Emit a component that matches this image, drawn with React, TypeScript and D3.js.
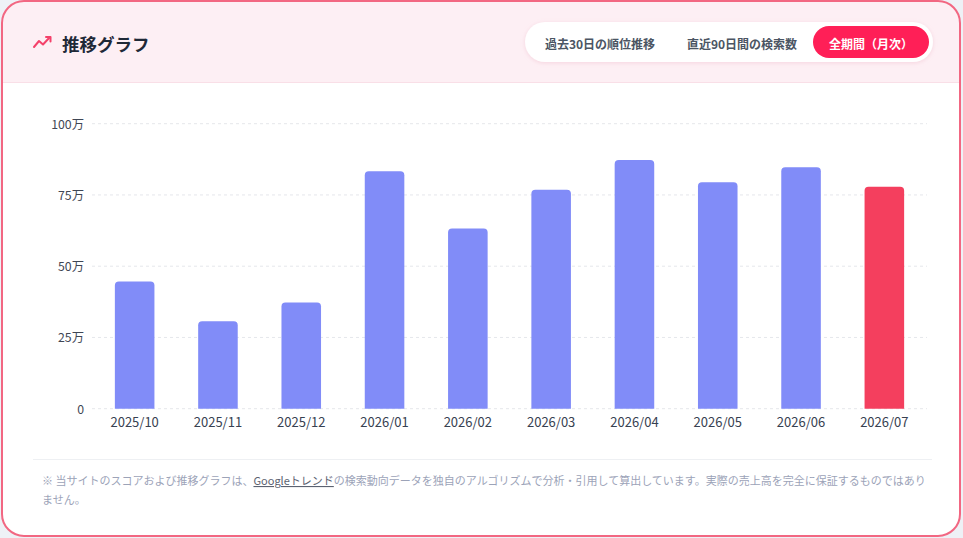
import * as d3 from "d3";
import { useMemo } from "react";

const months = [
  "2025/10", "2025/11", "2025/12", "2026/01", "2026/02",
  "2026/03", "2026/04", "2026/05", "2026/06", "2026/07",
];
const searches = [446000, 307000, 373000, 833000, 632000, 768000, 873000, 795000, 847000, 779000];
const yTicks = [0, 250000, 500000, 750000, 1000000];
const tabs = ["過去30日の順位推移", "直近90日間の検索数", "全期間（月次）"];

const W = 963;
const H = 538;
const FONT = "'Noto Sans CJK JP', 'Noto Sans', sans-serif";

// bar with rounded top corners only
function barPath(x: number, y: number, w: number, h: number, r: number) {
  const rr = Math.min(r, w / 2, h);
  return `M${x},${y + h}V${y + rr}Q${x},${y} ${x + rr},${y}H${x + w - rr}Q${x + w},${y} ${x + w},${y + rr}V${y + h}Z`;
}

export default function App() {
  const x = useMemo(
    () => d3.scaleBand<string>().domain(months).range([93, 926]).paddingInner(0.525).paddingOuter(0.2625),
    []
  );
  const y = useMemo(() => d3.scaleLinear().domain([0, 1000000]).range([408.7, 123.7]), []);

  const fmt = (v: number) => (v === 0 ? "0" : `${v / 10000}万`);
  const last = months.length - 1;

  return (
    <svg
      width={W}
      height={H}
      style={{ position: "fixed", left: 0, top: 0, display: "block", fontFamily: FONT }}
    >
      <defs>
        <clipPath id="card">
          <rect x={2} y={1} width={958} height={535} rx={22} />
        </clipPath>
        <filter id="shadow" x="-10%" y="-40%" width="120%" height="180%">
          <feDropShadow dx={0} dy={1} stdDeviation={2} floodColor="#e8a3b6" floodOpacity={0.35} />
        </filter>
      </defs>

      <rect width={W} height={H} fill="#eef1f6" />

      {/* card */}
      <rect x={2} y={1} width={958} height={535} rx={22} fill="#ffffff" />
      <g clipPath="url(#card)">
        <rect x={0} y={0} width={W} height={82} fill="#fdeff4" />
        <line x1={0} x2={W} y1={82.5} y2={82.5} stroke="#f9dfe7" />
      </g>
      <rect x={2} y={1} width={958} height={535} rx={22} fill="none" stroke="#f26782" strokeWidth={2} />

      {/* header */}
      <polyline
        points="34,47 39,41 43,44.5 50,37"
        fill="none"
        stroke="#f4416a"
        strokeWidth={2}
        strokeLinecap="round"
        strokeLinejoin="round"
      />
      <polyline
        points="46,37 50.5,37 50.5,41.5"
        fill="none"
        stroke="#f4416a"
        strokeWidth={2}
        strokeLinecap="round"
        strokeLinejoin="round"
      />
      <text x={62} y={43} dominantBaseline="central" fontSize={17.5} fontWeight={700} fill="#1f2937">
        推移グラフ
      </text>

      {/* tabs */}
      <rect x={525} y={22} width={408} height={40} rx={20} fill="#ffffff" filter="url(#shadow)" />
      <rect x={813} y={26} width={116} height={32} rx={16} fill="#ff1f57" />
      {tabs.map((t, i) => (
        <text
          key={t}
          x={[600, 742, 871][i]}
          y={43}
          textAnchor="middle"
          dominantBaseline="central"
          fontSize={12}
          fontWeight={700}
          fill={i === 2 ? "#ffffff" : "#4b5563"}
        >
          {t}
        </text>
      ))}

      {/* grid */}
      {yTicks.map(t => (
        <g key={t}>
          <line
            x1={92}
            x2={927}
            y1={y(t)}
            y2={y(t)}
            stroke="#e5e7eb"
            strokeDasharray="3 3"
          />
          <text
            x={84}
            y={y(t)}
            textAnchor="end"
            dominantBaseline="central"
            fontSize={12.3}
            fill="#3f4654"
          >
            {fmt(t)}
          </text>
        </g>
      ))}

      {/* bars */}
      {searches.map((v, i) => {
        const bx = x(months[i])!;
        const by = y(v);
        return (
          <path
            key={months[i]}
            d={barPath(bx, by, x.bandwidth(), y(0) - by, 4)}
            fill={i === last ? "#f43f5e" : "#818cf8"}
          />
        );
      })}

      {/* x labels */}
      {months.map(m => (
        <text
          key={m}
          x={x(m)! + x.bandwidth() / 2}
          y={421}
          textAnchor="middle"
          dominantBaseline="central"
          fontSize={13}
          fill="#374151"
        >
          {m}
        </text>
      ))}

      {/* footer note */}
      <line x1={33} x2={932} y1={459.5} y2={459.5} stroke="#eef0f3" />
      <text x={42} y={480} dominantBaseline="central" fontSize={11} fill="#9ca3b8">
        <tspan>※ 当サイトのスコアおよび推移グラフは、</tspan>
        <tspan
          fill="#5b6170"
          style={{ textDecoration: "underline", textDecorationColor: "#c7cbd6" }}
        >
          Googleトレンド
        </tspan>
        <tspan>の検索動向データを独自のアルゴリズムで分析・引用して算出しています。実際の売上高を完全に保証するものではあり</tspan>
      </text>
      <text x={42} y={499} dominantBaseline="central" fontSize={11} fill="#9ca3b8">
        ません。
      </text>
    </svg>
  );
}
